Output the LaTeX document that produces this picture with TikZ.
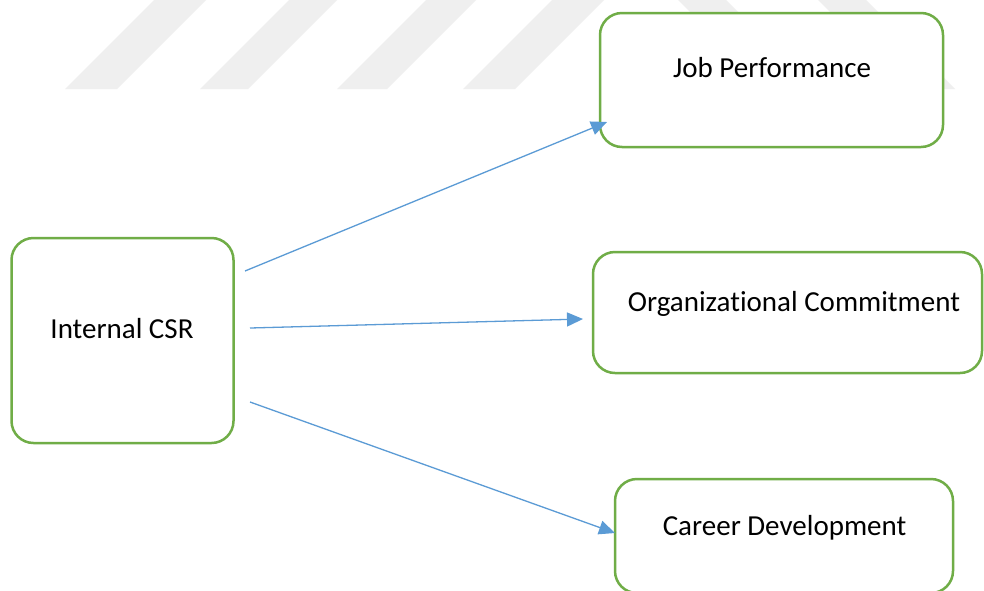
\documentclass[tikz,border=0pt]{standalone}
\usepackage{fontspec}
\setmainfont{Carlito}[Ligatures={NoCommon,NoRare,NoContextual}]
\usetikzlibrary{arrows.meta}
\definecolor{boxgreen}{RGB}{112,173,71}
\definecolor{linkblue}{RGB}{91,155,213}
\definecolor{stripegray}{RGB}{239,239,239}
\begin{document}
\begin{tikzpicture}[x=1pt,y=-1pt,
  box/.style={draw=boxgreen,line width=2.5pt,fill=white,rounded corners=22pt,
    rectangle,inner sep=0pt},
  lbl/.style={anchor=base,inner sep=0pt,font=\fontsize{29}{35}\selectfont},
  link/.style={draw=linkblue,line width=1.3pt,
    -{Triangle[length=16pt,width=14pt]}},
  stripe/.style={fill=stripegray,draw=none}]
\clip (0,0) rectangle (984,590);
\fill[white] (0,0) rectangle (984,590);

% diagonal band pattern along the top
\foreach \xb/\w in {65/52,200/48,337/50,463/52}
  \path[stripe] (\xb,89) -- ++(\w,0) -- ++(89,-89) -- ++(-\w,0) -- cycle;
\foreach \xt/\w in {678/48,818/48}
  \path[stripe] (\xt,0) -- ++(\w,0) -- ++(89,89) -- ++(-\w,0) -- cycle;

% boxes
\node[box,minimum width=343pt,minimum height=134pt] (jp) at (771.5,80) {};
\node[box,minimum width=389pt,minimum height=121pt] (oc) at (787.5,312.5) {};
\node[box,minimum width=338pt,minimum height=114pt] (cd) at (784,536) {};
\node[box,minimum width=222pt,minimum height=205pt] (csr) at (122.5,340.5) {};

% labels (the kern keeps "t" and "i" as separate glyphs)
\node[lbl] (jpt) at (772,77) {Job Performance};
\node[lbl] (oct) at (794,311) {Organizat\kern0pt ional Commitment};
\node[lbl] (cdt) at (784.5,535) {Career Development};
\node[lbl] (csrt) at (122,338) {Internal CSR};

% arrow end points
\coordinate (s1) at (245,271);
\coordinate (s2) at (250,328);
\coordinate (s3) at (250,402);
\coordinate (e1) at (607,122);
\coordinate (e2) at (583,319);
\coordinate (e3) at (615,533);

\path[link] (s1) -- (e1);
\path[link] (s2) -- (e2);
\path[link] (s3) -- (e3);
\end{tikzpicture}
\end{document}
